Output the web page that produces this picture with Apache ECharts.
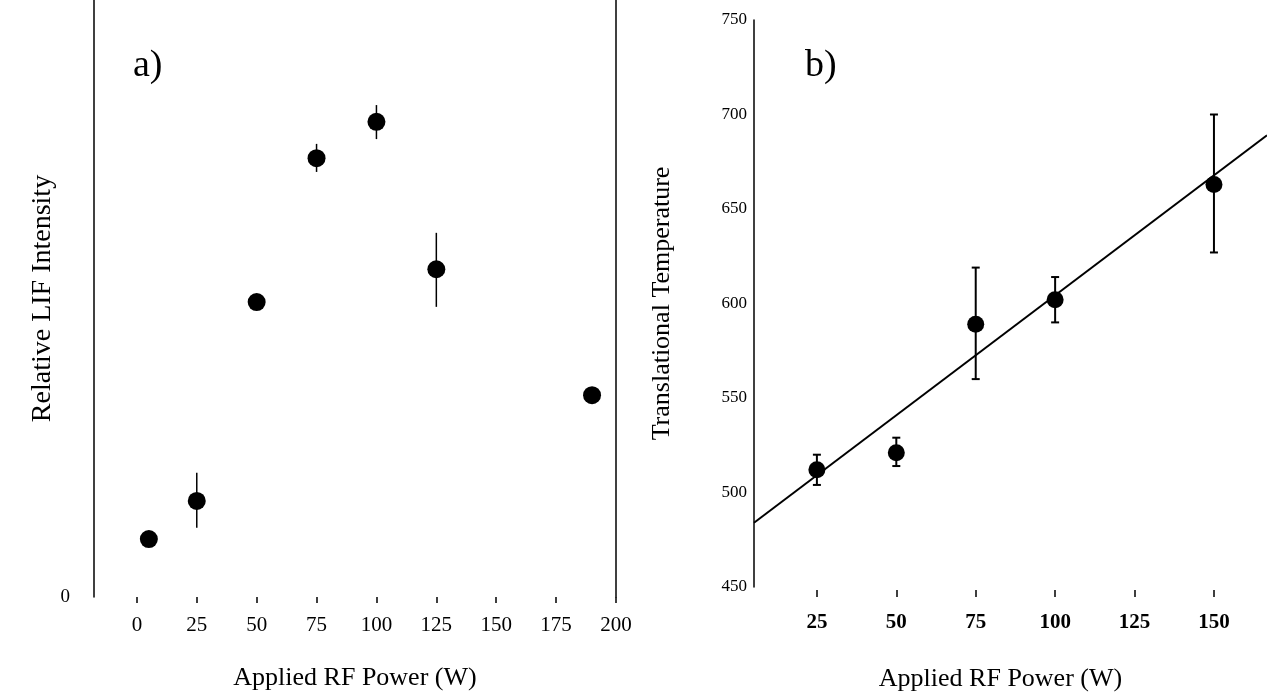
<!DOCTYPE html>
<html>
<head>
<meta charset="utf-8">
<script src="https://cdn.jsdelivr.net/npm/echarts@6/dist/echarts.min.js"></script>
<style>
  html, body { margin: 0; padding: 0; background: #fff; }
  #chart { width: 1267px; height: 698px; }
</style>
</head>
<body>
<div id="chart"></div>
<script>
// panel a) relative LIF intensity vs applied RF power
const powerA = [5, 25, 50, 75, 100, 125, 190]
const lifA = [9.7, 16.1, 49.4, 73.5, 79.6, 54.9, 33.8]
const lifLowA = [null, 11.6, null, 71.2, 76.7, 48.6, null]
const lifHighA = [null, 20.8, null, 75.9, 82.4, 61.0, null]
const ticksA = [0, 25, 50, 75, 100, 125, 150, 175, 200]

// panel b) translational temperature vs applied RF power
const powerB = [25, 50, 75, 100, 150]
const tempB = [512, 521, 589, 602, 663]
const tempLowB = [504, 514, 560, 590, 627]
const tempHighB = [520, 529, 619, 614, 700]
const ticksB = [25, 50, 75, 100, 125, 150]
const fitPowerB = [5.2, 166.7]
const fitTempB = [484, 689]

const serif = 'Liberation Serif'

const pointsA = powerA.map((p, i) => [p, lifA[i]])
const errA = powerA.map((p, i) => [p, lifLowA[i], lifHighA[i]]).filter(d => d[1] !== null)
const pointsB = powerB.map((p, i) => [p, tempB[i]])
const errB = powerB.map((p, i) => [p, tempLowB[i], tempHighB[i]])
const fitB = fitPowerB.map((p, i) => [p, fitTempB[i]])

const errorBar = (capWidth, lineWidth) => (params, api) => {
    const x = api.value(0)
    const top = api.coord([x, api.value(2)])
    const bot = api.coord([x, api.value(1)])
    const style = { stroke: '#000', lineWidth: lineWidth }
    const children = [
        { type: 'line', shape: { x1: top[0], y1: top[1], x2: bot[0], y2: bot[1] }, style }
    ]
    if (capWidth > 0) {
        children.push({ type: 'line', shape: { x1: top[0] - capWidth / 2, y1: top[1], x2: top[0] + capWidth / 2, y2: top[1] }, style })
        children.push({ type: 'line', shape: { x1: bot[0] - capWidth / 2, y1: bot[1], x2: bot[0] + capWidth / 2, y2: bot[1] }, style })
    }
    return { type: 'group', children }
}

const myChart = echarts.init(document.getElementById('chart'))

const option = {
    animation: false,
    backgroundColor: '#fff',
    textStyle: { fontFamily: serif, color: '#000' },
    grid: [
        { left: 94, top: 0, width: 522, height: 597 },
        { left: 754, top: 20, right: 0, height: 567 }
    ],
    graphic: [
        { type: 'text', left: 133, top: 47, style: { text: 'a)', font: '38px "Liberation Serif"', fill: '#000' } },
        { type: 'text', left: 805, top: 47, style: { text: 'b)', font: '38px "Liberation Serif"', fill: '#000' } }
    ],
    xAxis: [
        {
            gridIndex: 0, type: 'value', min: -17.9, max: 200,
            name: 'Applied RF Power (W)', nameLocation: 'middle', nameGap: 68,
            nameTextStyle: { fontFamily: serif, fontSize: 26, color: '#000' },
            axisLine: { show: false },
            axisTick: { show: true, customValues: ticksA, length: 6, lineStyle: { color: '#000', width: 1.5 } },
            axisLabel: { customValues: ticksA, margin: 18, fontFamily: serif, fontSize: 21, color: '#000' },
            splitLine: { show: false }
        },
        {
            gridIndex: 1, type: 'value', min: 5.2, max: 166.7, offset: 3,
            name: 'Applied RF Power (W)', nameLocation: 'middle', nameGap: 76,
            nameTextStyle: { fontFamily: serif, fontSize: 26, color: '#000', padding: [0, 20, 0, 0] },
            axisLine: { show: false },
            axisTick: { show: true, customValues: ticksB, length: 7, lineStyle: { color: '#000', width: 1.5 } },
            axisLabel: { customValues: ticksB, margin: 22, fontFamily: serif, fontSize: 21, fontWeight: 'bold', color: '#000' },
            splitLine: { show: false }
        }
    ],
    yAxis: [
        {
            gridIndex: 0, type: 'value', min: 0, max: 100,
            name: 'Relative LIF Intensity', nameLocation: 'middle', nameGap: 36,
            nameTextStyle: { fontFamily: serif, fontSize: 28, color: '#000' },
            axisLine: { show: true, onZero: false, lineStyle: { color: '#000', width: 1.5 } },
            axisTick: { show: false },
            axisLabel: { customValues: [0], margin: 24, fontFamily: serif, fontSize: 19, color: '#000' },
            splitLine: { show: false }
        },
        {
            gridIndex: 1, type: 'value', min: 450, max: 750, interval: 50,
            name: 'Translational Temperature', nameLocation: 'middle', nameGap: 79,
            nameTextStyle: { fontFamily: serif, fontSize: 26, color: '#000' },
            axisLine: { show: true, onZero: false, lineStyle: { color: '#000', width: 1.5 } },
            axisTick: { show: false },
            axisLabel: { margin: 7, fontFamily: serif, fontSize: 17, color: '#000' },
            splitLine: { show: false }
        },
        {
            gridIndex: 0, type: 'value', min: 0, max: 100, position: 'right',
            axisLine: { show: true, onZero: false, lineStyle: { color: '#000', width: 1.5 } },
            axisTick: { show: false },
            axisLabel: { show: false },
            splitLine: { show: false }
        }
    ],
    series: [
        {
            type: 'custom', xAxisIndex: 0, yAxisIndex: 0,
            renderItem: errorBar(0, 1.5),
            encode: { x: 0, y: [1, 2] },
            data: errA, z: 2
        },
        {
            type: 'scatter', xAxisIndex: 0, yAxisIndex: 0,
            data: pointsA, symbol: 'circle', symbolSize: 18,
            itemStyle: { color: '#000', opacity: 1 }, z: 3
        },
        {
            type: 'line', xAxisIndex: 1, yAxisIndex: 1,
            data: fitB, showSymbol: false,
            lineStyle: { color: '#000', width: 2 }, z: 1
        },
        {
            type: 'custom', xAxisIndex: 1, yAxisIndex: 1,
            renderItem: errorBar(8, 2),
            encode: { x: 0, y: [1, 2] },
            data: errB, z: 2
        },
        {
            type: 'scatter', xAxisIndex: 1, yAxisIndex: 1,
            data: pointsB, symbol: 'circle', symbolSize: 17,
            itemStyle: { color: '#000', opacity: 1 }, z: 3
        }
    ]
}

myChart.setOption(option)
window.addEventListener('resize', () => {
    myChart.resize()
})
</script>
</body>
</html>
